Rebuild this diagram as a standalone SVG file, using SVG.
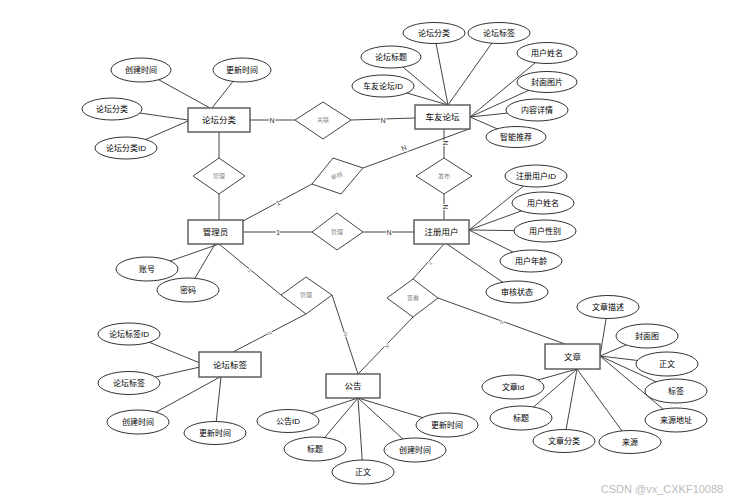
<svg xmlns="http://www.w3.org/2000/svg" width="745" height="501" viewBox="0 0 745 501">
<style>
.ent rect{fill:#fff;stroke:#555;stroke-width:1.4}
.att ellipse{fill:#fff;stroke:#333;stroke-width:1}
.rel polygon{fill:#fff;stroke:#444;stroke-width:1}
text{font-family:"Liberation Sans","Noto Sans CJK SC",sans-serif;text-anchor:middle;dominant-baseline:central}
.ent text{font-size:8.5px;fill:#000}
.att text{font-size:8px;fill:#000}
.rel text{font-size:6px;fill:#888}
#conn line{stroke:#444;stroke-width:1}
.card{font-size:7px;fill:#333;paint-order:stroke;stroke:#fff;stroke-width:2}
.cs{font-size:5px;fill:#666;paint-order:stroke;stroke:#fff;stroke-width:1.5}
</style>
<rect width="745" height="501" fill="#fff"/>
<g id="conn">
<!-- relationship lines -->
<line x1="250" y1="120" x2="295" y2="120"/>
<line x1="351" y1="120" x2="415" y2="118"/>
<line x1="219" y1="132" x2="219" y2="158"/>
<line x1="219" y1="194" x2="219" y2="220"/>
<line x1="243" y1="221" x2="312" y2="184"/>
<line x1="363" y1="168" x2="469" y2="129"/>
<line x1="444" y1="129" x2="444" y2="158"/>
<line x1="444" y1="194" x2="444" y2="220"/>
<line x1="243" y1="232" x2="312" y2="232"/>
<line x1="363" y1="232" x2="414" y2="232"/>
<line x1="219" y1="244" x2="281" y2="295"/>
<line x1="306" y1="314" x2="233" y2="352"/>
<line x1="332" y1="295" x2="358" y2="374"/>
<line x1="444" y1="244" x2="413" y2="279"/>
<line x1="413" y1="317" x2="358" y2="374"/>
<line x1="438" y1="298" x2="565" y2="344"/>
<!-- attribute lines: 论坛分类 -->
<line x1="141" y1="70" x2="210" y2="108"/>
<line x1="242" y1="70" x2="212" y2="108"/>
<line x1="112" y1="109" x2="188" y2="120"/>
<line x1="126" y1="148" x2="188" y2="121"/>
<!-- 车友论坛 -->
<line x1="434" y1="33" x2="448" y2="105"/>
<line x1="391" y1="57" x2="448" y2="105"/>
<line x1="383" y1="86" x2="448" y2="105"/>
<line x1="499" y1="33" x2="448" y2="105"/>
<line x1="547" y1="53" x2="470" y2="117"/>
<line x1="547" y1="82" x2="470" y2="117"/>
<line x1="537" y1="110" x2="470" y2="117"/>
<line x1="516" y1="137" x2="470" y2="117"/>
<!-- 注册用户 -->
<line x1="536" y1="176" x2="469" y2="230"/>
<line x1="543" y1="203" x2="469" y2="230"/>
<line x1="545" y1="231" x2="469" y2="230"/>
<line x1="531" y1="261" x2="469" y2="230"/>
<line x1="517" y1="292" x2="447" y2="244"/>
<!-- 管理员 -->
<line x1="147" y1="269" x2="219" y2="244"/>
<line x1="188" y1="290" x2="215" y2="244"/>
<!-- 论坛标签 -->
<line x1="129" y1="334" x2="200" y2="363"/>
<line x1="129" y1="383" x2="200" y2="367"/>
<line x1="138" y1="422" x2="220" y2="377"/>
<line x1="215" y1="433" x2="221" y2="377"/>
<!-- 公告 -->
<line x1="288" y1="421" x2="358" y2="398"/>
<line x1="315" y1="449" x2="358" y2="398"/>
<line x1="363" y1="472" x2="358" y2="398"/>
<line x1="415" y1="450" x2="358" y2="398"/>
<line x1="447" y1="425" x2="358" y2="398"/>
<!-- 文章 -->
<line x1="608" y1="307" x2="600" y2="356"/>
<line x1="647" y1="336" x2="600" y2="356"/>
<line x1="667" y1="364" x2="600" y2="356"/>
<line x1="676" y1="391" x2="600" y2="356"/>
<line x1="676" y1="420" x2="600" y2="356"/>
<line x1="513" y1="387" x2="577" y2="369"/>
<line x1="521" y1="418" x2="577" y2="369"/>
<line x1="564" y1="441" x2="577" y2="369"/>
<line x1="630" y1="442" x2="577" y2="369"/>
<!-- cardinality labels -->
<text class="card" x="272" y="120">N</text>
<text class="card" x="383" y="120">N</text>
<text class="card" x="278" y="203" transform="rotate(-28 278 203)">1</text>
<text class="card" x="404" y="148" transform="rotate(-22 404 148)">N</text>
<text class="card" x="445" y="143" transform="rotate(90 445 143)">N</text>
<text class="card" x="445" y="207" transform="rotate(90 445 207)">N</text>
<text class="card" x="278" y="232">1</text>
<text class="card" x="389" y="232">N</text>
<text class="cs" x="250" y="270" transform="rotate(40 250 270)">1</text>
<text class="cs" x="270" y="333" transform="rotate(-28 270 333)">N</text>
<text class="cs" x="346" y="334" transform="rotate(72 346 334)">N</text>
<text class="cs" x="430" y="263" transform="rotate(-48 430 263)">1</text>
<text class="cs" x="387" y="346" transform="rotate(-46 387 346)">N</text>
<text class="cs" x="502" y="322" transform="rotate(20 502 322)">N</text>
</g>
<!-- relationships -->
<g id="r-guanlian" class="rel"><polygon points="323,102 351,120 323,139 295,120"/><text x="323" y="120">关联</text></g>
<g id="r-guanli1" class="rel"><polygon points="219,158 245,176 219,194 193,176"/><text x="219" y="176">管理</text></g>
<g id="r-shenhe" class="rel"><polygon points="333,158 363,168 341,194 312,184"/><text x="337" y="176" transform="rotate(-20 337 176)">审核</text></g>
<g id="r-fabu" class="rel"><polygon points="444,158 472,176 444,194 416,176"/><text x="444" y="176">发布</text></g>
<g id="r-guanli2" class="rel"><polygon points="337,213 363,232 337,250 312,232"/><text x="337" y="232">管理</text></g>
<g id="r-guanli3" class="rel"><polygon points="306,277 332,295 306,314 281,295"/><text x="306" y="295">管理</text></g>
<g id="r-chakan" class="rel"><polygon points="413,279 438,298 413,317 387,298"/><text x="413" y="298">查看</text></g>
<!-- entities -->
<g id="e-ltfl" class="ent"><rect x="188" y="108" width="62" height="24"/><text x="219" y="120">论坛分类</text></g>
<g id="e-cylt" class="ent"><rect x="415" y="105" width="55" height="24"/><text x="442.5" y="117">车友论坛</text></g>
<g id="e-gly" class="ent"><rect x="188" y="220" width="55" height="24"/><text x="215.5" y="232">管理员</text></g>
<g id="e-zcyh" class="ent"><rect x="414" y="220" width="55" height="24"/><text x="441.5" y="232">注册用户</text></g>
<g id="e-ltbq" class="ent"><rect x="199" y="352" width="62" height="25"/><text x="230" y="364.5">论坛标签</text></g>
<g id="e-gg" class="ent"><rect x="326" y="374" width="54" height="24"/><text x="353" y="386">公告</text></g>
<g id="e-wz" class="ent"><rect x="545" y="344" width="55" height="25"/><text x="572.5" y="356.5">文章</text></g>
<!-- attributes -->
<g id="a-ltfl-cjsj" class="att"><ellipse cx="141" cy="70" rx="30" ry="12"/><text x="141" y="70">创建时间</text></g>
<g id="a-ltfl-gxsj" class="att"><ellipse cx="242" cy="70" rx="29" ry="12"/><text x="242" y="70">更新时间</text></g>
<g id="a-ltfl-ltfl" class="att"><ellipse cx="112" cy="109" rx="30" ry="11"/><text x="112" y="109">论坛分类</text></g>
<g id="a-ltfl-id" class="att"><ellipse cx="126" cy="148" rx="31" ry="11"/><text x="126" y="148">论坛分类ID</text></g>
<g id="a-cylt-ltfl" class="att"><ellipse cx="434" cy="33" rx="31" ry="10.5"/><text x="434" y="33">论坛分类</text></g>
<g id="a-cylt-ltbt" class="att"><ellipse cx="391" cy="57" rx="30" ry="11"/><text x="391" y="57">论坛标题</text></g>
<g id="a-cylt-id" class="att"><ellipse cx="383" cy="86" rx="31" ry="11"/><text x="383" y="86">车友论坛ID</text></g>
<g id="a-cylt-ltbq" class="att"><ellipse cx="499" cy="33" rx="31" ry="10.5"/><text x="499" y="33">论坛标签</text></g>
<g id="a-cylt-yhxm" class="att"><ellipse cx="547" cy="53" rx="30" ry="10.5"/><text x="547" y="53">用户姓名</text></g>
<g id="a-cylt-fmtp" class="att"><ellipse cx="547" cy="82" rx="30" ry="10.5"/><text x="547" y="82">封面图片</text></g>
<g id="a-cylt-nrxq" class="att"><ellipse cx="537" cy="110" rx="31" ry="11"/><text x="537" y="110">内容详情</text></g>
<g id="a-cylt-zntj" class="att"><ellipse cx="516" cy="137" rx="30" ry="10.5"/><text x="516" y="137">智能推荐</text></g>
<g id="a-zcyh-id" class="att"><ellipse cx="536" cy="176" rx="31" ry="11"/><text x="536" y="176">注册用户ID</text></g>
<g id="a-zcyh-yhxm" class="att"><ellipse cx="543" cy="203" rx="31" ry="11"/><text x="543" y="203">用户姓名</text></g>
<g id="a-zcyh-yhxb" class="att"><ellipse cx="545" cy="231" rx="31" ry="11"/><text x="545" y="231">用户性别</text></g>
<g id="a-zcyh-yhnl" class="att"><ellipse cx="531" cy="261" rx="31" ry="11"/><text x="531" y="261">用户年龄</text></g>
<g id="a-zcyh-shzt" class="att"><ellipse cx="517" cy="292" rx="31" ry="11"/><text x="517" y="292">审核状态</text></g>
<g id="a-gly-zh" class="att"><ellipse cx="147" cy="269" rx="31" ry="12"/><text x="147" y="269">账号</text></g>
<g id="a-gly-mm" class="att"><ellipse cx="188" cy="290" rx="31" ry="12"/><text x="188" y="290">密码</text></g>
<g id="a-ltbq-id" class="att"><ellipse cx="129" cy="334" rx="31" ry="11"/><text x="129" y="334">论坛标签ID</text></g>
<g id="a-ltbq-ltbq" class="att"><ellipse cx="129" cy="383" rx="31" ry="11.5"/><text x="129" y="383">论坛标签</text></g>
<g id="a-ltbq-cjsj" class="att"><ellipse cx="138" cy="422" rx="31" ry="12"/><text x="138" y="422">创建时间</text></g>
<g id="a-ltbq-gxsj" class="att"><ellipse cx="215" cy="433" rx="31" ry="11.5"/><text x="215" y="433">更新时间</text></g>
<g id="a-gg-id" class="att"><ellipse cx="288" cy="421" rx="31" ry="11.5"/><text x="288" y="421">公告ID</text></g>
<g id="a-gg-bt" class="att"><ellipse cx="315" cy="449" rx="31" ry="12"/><text x="315" y="449">标题</text></g>
<g id="a-gg-zw" class="att"><ellipse cx="363" cy="472" rx="31" ry="12"/><text x="363" y="472">正文</text></g>
<g id="a-gg-cjsj" class="att"><ellipse cx="415" cy="450" rx="31" ry="12"/><text x="415" y="450">创建时间</text></g>
<g id="a-gg-gxsj" class="att"><ellipse cx="447" cy="425" rx="31" ry="12"/><text x="447" y="425">更新时间</text></g>
<g id="a-wz-wzms" class="att"><ellipse cx="608" cy="307" rx="31" ry="11.5"/><text x="608" y="307">文章描述</text></g>
<g id="a-wz-fmt" class="att"><ellipse cx="647" cy="336" rx="31" ry="12"/><text x="647" y="336">封面图</text></g>
<g id="a-wz-zw" class="att"><ellipse cx="667" cy="364" rx="31" ry="12"/><text x="667" y="364">正文</text></g>
<g id="a-wz-bq" class="att"><ellipse cx="676" cy="391" rx="31" ry="12"/><text x="676" y="391">标签</text></g>
<g id="a-wz-lydz" class="att"><ellipse cx="676" cy="420" rx="31" ry="12"/><text x="676" y="420">来源地址</text></g>
<g id="a-wz-ly" class="att"><ellipse cx="630" cy="442" rx="31" ry="11.5"/><text x="630" y="442">来源</text></g>
<g id="a-wz-wzfl" class="att"><ellipse cx="564" cy="441" rx="31" ry="11.5"/><text x="564" y="441">文章分类</text></g>
<g id="a-wz-bt" class="att"><ellipse cx="521" cy="418" rx="31" ry="12"/><text x="521" y="418">标题</text></g>
<g id="a-wz-id" class="att"><ellipse cx="513" cy="387" rx="31" ry="12"/><text x="513" y="387">文章id</text></g>
<text x="662" y="489" style="font-size:11px;fill:#bbb">CSDN @vx_CXKF10088</text>
</svg>
